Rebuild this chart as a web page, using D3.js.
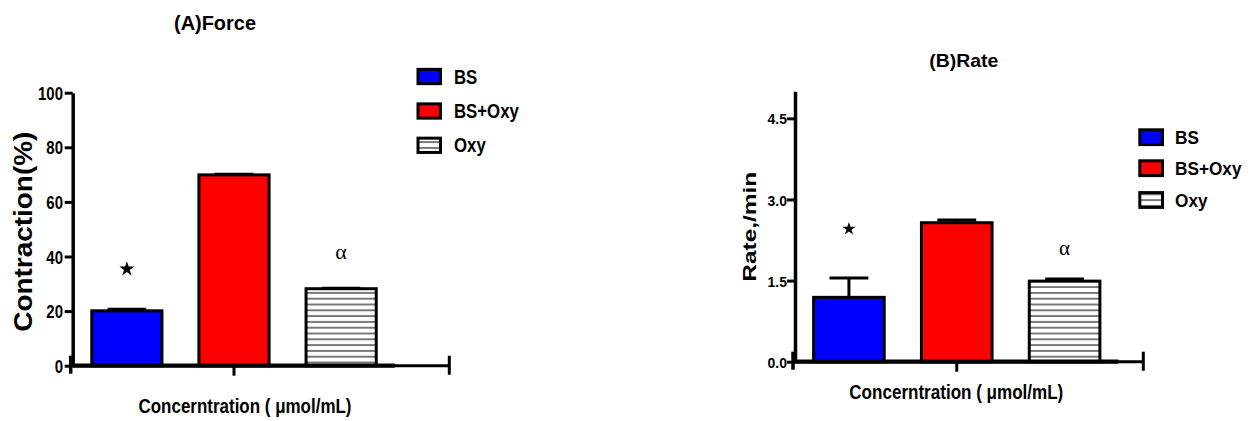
<!DOCTYPE html>
<html><head><meta charset="utf-8">
<script src="https://cdn.jsdelivr.net/npm/d3@7"></script>
<style>body{margin:0;background:#fff}svg{display:block}</style>
</head><body>
<svg id="c" width="1254" height="421"></svg>
<script>
// ---- data ----
const categories = ["BS", "BS+Oxy", "Oxy"];
const forceValues = [20.1, 69.9, 28.2];
const forceErrors = [0.6, 0.2, 0.2];
const rateValues = [1.19, 2.57, 1.49];
const rateErrors = [0.36, 0.05, 0.04];
const forceTicks = [0, 20, 40, 60, 80, 100];
const rateTicks = [0, 1.5, 3.0, 4.5];
const forceMax = 100;
const rateMax = 5;
const markSymbols = ["star", null, "alpha"];
const forceMarkAt = [35.7, null, 40.9];
const rateMarkAt = [2.47, null, 2.06];
const titles = ["(A)Force", "(B)Rate"];
const yLabels = ["Contraction(%)", "Rate,/min"];
const xLabel = "Concerntration ( \u03bcmol/mL)";
const fills = ["#0000ff", "#ff0000", "url(#hatch)"];

// ---- layout / style ----
const FONT = "'Liberation Sans', Arial, Helvetica, sans-serif";
const panels = [
  { values: forceValues, errors: forceErrors, ticks: forceTicks, max: forceMax, fmt: d3.format("d"), marks: forceMarkAt,
    yAxisX: 72.7, y0: 365.7, yTop: 92.7, band: [73.3, 394.7], axisEnd: 449.3,
    title: {x: 215, y: 29.5, size: 20, len: 82}, ylab: {x: 31.5, y: 231.7, size: 25.5, len: 200},
    xlab: {x: 245, y: 412.7, size: 20, len: 213}, tickFont: 18.5, tickSx: 0.81, tickOff: 9.7,
    legend: {boxX: 416.5, textX: 454, ys: [76.5, 111, 145.3], size: 20, sx: 0.84, boxW: 25.5, boxH: 17.3},
    starSize: 70, alphaSize: 22 },
  { values: rateValues, errors: rateErrors, ticks: rateTicks, max: rateMax, fmt: d3.format(".1f"), marks: rateMarkAt,
    yAxisX: 795, y0: 361.7, yTop: 91.3, band: [795, 1118.5], axisEnd: 1143.3,
    title: {x: 963.8, y: 66.7, size: 19, len: 69}, ylab: {x: 756, y: 226.7, size: 18.6, len: 110},
    xlab: {x: 956.3, y: 399.3, size: 20, len: 214}, tickFont: 15.5, tickSx: 0.9, tickOff: 8,
    legend: {boxX: 1138.3, textX: 1175, ys: [137.2, 168.2, 200], size: 18.5, sx: 0.93, boxW: 25.7, boxH: 17.8},
    starSize: 55, alphaSize: 21 }
];

const svg = d3.select("#c");
svg.append("rect").attr("width", 1254).attr("height", 421).attr("fill", "#fff");

const defs = svg.append("defs");
const pat = defs.append("pattern").attr("id", "hatch").attr("patternUnits", "userSpaceOnUse")
  .attr("width", 10).attr("height", 5.8);
pat.append("rect").attr("width", 10).attr("height", 5.8).attr("fill", "#fff");
pat.append("line").attr("x1", 0).attr("x2", 10).attr("y1", 2.9).attr("y2", 2.9)
  .attr("stroke", "#333").attr("stroke-width", 1.3);

function sText(g, str, x, y, size, sx, anchor) {
  return g.append("text")
    .attr("transform", `translate(${x},${y}) scale(${sx},1)`)
    .attr("text-anchor", anchor)
    .attr("font-family", FONT).attr("font-weight", "bold")
    .attr("font-size", size).attr("fill", "#000")
    .text(str);
}

panels.forEach((p, pi) => {
  const g = svg.append("g");
  const x = d3.scaleBand().domain(categories).range(p.band).paddingInner(0.345).paddingOuter(0.1725);
  const y = d3.scaleLinear().domain([0, p.max]).range([p.y0, p.yTop]);
  const bw = x.bandwidth();

  // bars
  g.selectAll("rect.bar").data(categories).join("rect")
    .attr("class", "bar")
    .attr("x", d => x(d))
    .attr("y", (d, i) => y(p.values[i]))
    .attr("width", bw)
    .attr("height", (d, i) => y(0) - y(p.values[i]))
    .attr("fill", (d, i) => fills[i])
    .attr("stroke", "#000").attr("stroke-width", 3);

  // error bars (upper)
  const capW = bw * 0.55;
  categories.forEach((c, i) => {
    const cx = x(c) + bw / 2;
    const top = y(p.values[i] + p.errors[i]);
    g.append("line").attr("x1", cx).attr("x2", cx).attr("y1", y(p.values[i])).attr("y2", top)
      .attr("stroke", "#000").attr("stroke-width", 3);
    g.append("line").attr("x1", cx - capW / 2).attr("x2", cx + capW / 2).attr("y1", top).attr("y2", top)
      .attr("stroke", "#000").attr("stroke-width", 3);
  });

  // y axis
  const ya = g.append("g").attr("transform", `translate(${p.yAxisX},0)`)
    .call(d3.axisLeft(y).tickValues(p.ticks).tickFormat(p.fmt).tickSize(8).tickSizeOuter(0));
  ya.select(".domain").attr("stroke", "#000").attr("stroke-width", 3.5);
  ya.selectAll(".tick line").attr("stroke", "#000").attr("stroke-width", 3);
  ya.selectAll(".tick text")
    .attr("x", null).attr("dy", null)
    .attr("transform", `translate(${-p.tickOff},${0.36 * p.tickFont}) scale(${p.tickSx},1)`)
    .attr("font-family", FONT).attr("font-weight", "bold")
    .attr("font-size", p.tickFont).attr("fill", "#000");

  // x axis
  g.append("line").attr("x1", p.yAxisX).attr("x2", p.axisEnd).attr("y1", p.y0).attr("y2", p.y0)
    .attr("stroke", "#000").attr("stroke-width", 3);
  g.append("line").attr("x1", p.yAxisX).attr("x2", p.band[1]).attr("y1", p.y0).attr("y2", p.y0)
    .attr("stroke", "#000").attr("stroke-width", 4.2);
  const mid = (p.band[0] + p.band[1]) / 2;
  g.append("line").attr("x1", mid).attr("x2", mid).attr("y1", p.y0).attr("y2", p.y0 + 10)
    .attr("stroke", "#000").attr("stroke-width", 3);
  g.append("line").attr("x1", p.axisEnd).attr("x2", p.axisEnd).attr("y1", p.y0 - 10).attr("y2", p.y0 + 9)
    .attr("stroke", "#000").attr("stroke-width", 3);
  g.append("line").attr("x1", p.yAxisX - 2).attr("x2", p.yAxisX - 2).attr("y1", p.y0 - 10).attr("y2", p.y0 + 8)
    .attr("stroke", "#000").attr("stroke-width", 3.5);

  // significance marks
  categories.forEach((c, i) => {
    if (!markSymbols[i]) return;
    const cx = x(c) + bw / 2;
    const cy = y(p.marks[i]);
    if (markSymbols[i] === "star") {
      g.append("path").attr("d", d3.symbol(d3.symbolStar, p.starSize)())
        .attr("transform", `translate(${cx},${cy + 0.8})`).attr("fill", "#000");
    } else {
      g.append("text").attr("x", cx).attr("y", cy).attr("dy", "0.24em")
        .attr("text-anchor", "middle").attr("font-family", "'Liberation Serif', 'Times New Roman', serif")
        .attr("font-size", p.alphaSize).attr("fill", "#000").text("\u03b1");
    }
  });

  // title
  g.append("text").attr("x", p.title.x).attr("y", p.title.y).attr("text-anchor", "middle")
    .attr("font-family", FONT).attr("font-weight", "bold").attr("font-size", p.title.size)
    .attr("textLength", p.title.len).attr("lengthAdjust", "spacingAndGlyphs")
    .text(titles[pi]);

  // y label
  g.append("text").attr("transform", `translate(${p.ylab.x},${p.ylab.y}) rotate(-90)`)
    .attr("text-anchor", "middle")
    .attr("font-family", FONT).attr("font-weight", "bold").attr("font-size", p.ylab.size)
    .attr("textLength", p.ylab.len).attr("lengthAdjust", "spacingAndGlyphs")
    .text(yLabels[pi]);

  // x label
  g.append("text").attr("x", p.xlab.x).attr("y", p.xlab.y).attr("text-anchor", "middle")
    .attr("font-family", FONT).attr("font-weight", "bold").attr("font-size", p.xlab.size)
    .attr("textLength", p.xlab.len).attr("lengthAdjust", "spacingAndGlyphs")
    .text(xLabel);

  // legend
  const L = p.legend;
  categories.forEach((c, i) => {
    const cy = L.ys[i];
    g.append("rect").attr("x", L.boxX + 1.5).attr("y", cy - L.boxH / 2 + 1.5)
      .attr("width", L.boxW - 3).attr("height", L.boxH - 3)
      .attr("fill", fills[i]).attr("stroke", "#000").attr("stroke-width", 3);
    sText(g, c, L.textX, cy + 0.358 * L.size, L.size, L.sx, "start");
  });
});
</script>
</body></html>
